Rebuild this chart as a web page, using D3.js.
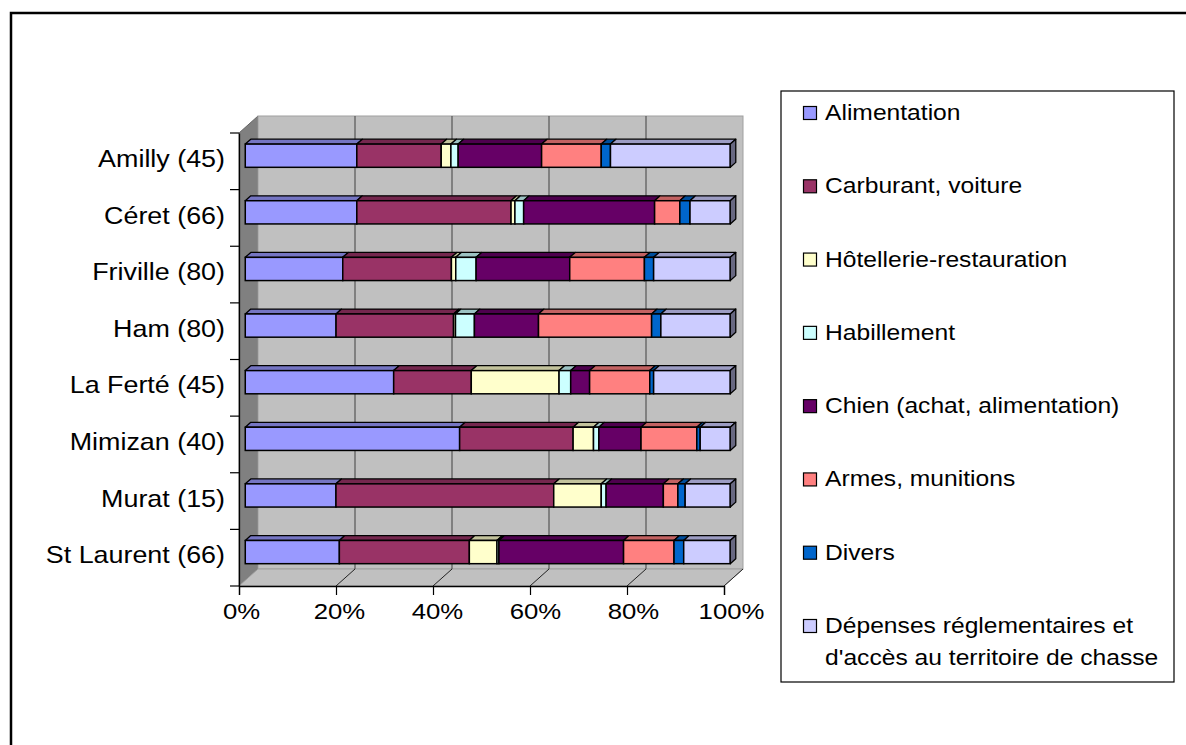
<!doctype html>
<html>
  <head>
    <meta charset="utf-8">
    <script src="https://d3js.org/d3.v7.min.js"></script>
    <style>
      body { margin: 0; background: #fff; }
      text { font-family: "Liberation Sans", Arial, sans-serif; fill: #000; }
    </style>
  </head>
  <body>
    <svg id="chart" width="1186" height="745"></svg>
    <script>
      /* categories (hunting areas) */
      const categories = ["Amilly (45)", "Céret (66)", "Friville (80)", "Ham (80)",
        "La Ferté (45)", "Mimizan (40)", "Murat (15)", "St Laurent (66)"];

      /* series names, legend order */
      const seriesNames = ["Alimentation", "Carburant, voiture", "Hôtellerie-restauration",
        "Habillement", "Chien (achat, alimentation)", "Armes, munitions", "Divers",
        "Dépenses réglementaires et d'accès au territoire de chasse"];

      /* share of spending (%) per category */
      const alimentation = [23.0, 23.0, 20.1, 18.7, 30.6, 44.2, 18.7, 19.4];
      const carburant    = [17.4, 31.8, 22.4, 24.2, 16.0, 23.4, 44.9, 26.8];
      const hotellerie   = [2.0, 0.8, 0.9, 0.4, 18.1, 4.2, 9.8, 5.7];
      const habillement  = [1.5, 1.8, 4.2, 3.9, 2.4, 1.1, 1.0, 0.4];
      const chien        = [17.2, 27.0, 19.3, 13.2, 3.9, 8.7, 11.8, 25.7];
      const armes        = [12.3, 5.2, 15.4, 23.3, 12.4, 11.5, 3.0, 10.4];
      const divers       = [1.9, 2.1, 1.9, 1.9, 0.8, 0.7, 1.5, 2.0];
      const depenses     = [24.7, 8.3, 15.8, 14.3, 15.8, 6.2, 9.3, 9.6];

      const xTicks = [0, 0.2, 0.4, 0.6, 0.8, 1];

      const colors = ["#9999FF", "#993366", "#FFFFCC", "#CCFFFF", "#660066", "#FF8080", "#0066CC", "#CCCCFF"];

      const allSeries = [alimentation, carburant, hotellerie, habillement, chien, armes, divers, depenses];
      const keys = seriesNames.map((d, i) => "s" + i);
      const table = categories.map((c, j) => {
        const row = { cat: c };
        allSeries.forEach((s, i) => row[keys[i]] = s[j]);
        return row;
      });

      const svg = d3.select("#chart");
      const SX = 1.12; // text looks stretched horizontally in the original

      /* outer frame */
      svg.append("rect").attr("x", 11).attr("y", 13).attr("width", 1300).attr("height", 900)
        .attr("fill", "none").attr("stroke", "#000").attr("stroke-width", 2.5);

      /* plot geometry: front plane + depth vector */
      const x = d3.scaleLinear().domain([0, 1]).range([239, 724]);
      const y = d3.scaleBand().domain(categories).range([133, 586]);
      const dx = 19, dy = -17;
      const plotTop = 133, plotBottom = 586;

      const walls = svg.append("g");
      // left wall
      walls.append("path")
        .attr("d", `M${x(0)},${plotTop}L${x(0) + dx},${plotTop + dy}L${x(0) + dx},${plotBottom + dy}L${x(0)},${plotBottom}Z`)
        .attr("fill", "#808080").attr("stroke", "#666").attr("stroke-width", 1);
      // back wall
      walls.append("rect").attr("x", x(0) + dx).attr("y", plotTop + dy)
        .attr("width", x(1) - x(0)).attr("height", plotBottom - plotTop)
        .attr("fill", "#C0C0C0").attr("stroke", "#a0a0a0").attr("stroke-width", 1);
      // floor
      walls.append("path")
        .attr("d", `M${x(0)},${plotBottom}L${x(0) + dx},${plotBottom + dy}L${x(1) + dx},${plotBottom + dy}L${x(1)},${plotBottom}Z`)
        .attr("fill", "#C0C0C0").attr("stroke", "#a0a0a0").attr("stroke-width", 1);

      // gridlines on back wall and floor
      walls.selectAll("line.grid").data(xTicks.slice(1, -1)).enter().append("line")
        .attr("x1", d => x(d) + dx).attr("x2", d => x(d) + dx)
        .attr("y1", plotTop + dy).attr("y2", plotBottom + dy)
        .attr("stroke", "#555").attr("stroke-width", 1.2);
      walls.selectAll("line.fgrid").data(xTicks.slice(1)).enter().append("line")
        .attr("x1", d => x(d)).attr("x2", d => x(d) + dx)
        .attr("y1", plotBottom).attr("y2", plotBottom + dy)
        .attr("stroke", "#222").attr("stroke-width", 1);

      /* bars */
      const stacked = d3.stack().keys(keys).offset(d3.stackOffsetExpand)(table);
      const f0 = 0.33, f1 = 0.62;          // depth placement of bars
      const bh = y.bandwidth() * 0.41;

      const bars = svg.append("g");
      categories.forEach((c, j) => {
        const ox = dx * f0, oy = dy * f0;
        const ddx = dx * (f1 - f0), ddy = dy * (f1 - f0);
        const yc = y(c) + y.bandwidth() / 2 + oy;
        const y0 = yc - bh / 2, y1 = yc + bh / 2;
        stacked.forEach((layer, i) => {
          const a = x(layer[j][0]) + ox, b = x(layer[j][1]) + ox;
          if (b - a <= 0) return;
          const col = d3.color(colors[i]);
          // top face
          bars.append("path")
            .attr("d", `M${a},${y0}L${a + ddx},${y0 + ddy}L${b + ddx},${y0 + ddy}L${b},${y0}Z`)
            .attr("fill", col.darker(0.75)).attr("stroke", "#000").attr("stroke-width", 1.3)
            .attr("stroke-linejoin", "round");
          // front face
          bars.append("rect").attr("x", a).attr("y", y0).attr("width", b - a).attr("height", bh)
            .attr("fill", colors[i]).attr("stroke", "#000").attr("stroke-width", 1.5);
          // right side of the last segment
          if (i === stacked.length - 1) {
            bars.append("path")
              .attr("d", `M${b},${y0}L${b + ddx},${y0 + ddy}L${b + ddx},${y1 + ddy}L${b},${y1}Z`)
              .attr("fill", col.darker(1.9)).attr("stroke", "#000").attr("stroke-width", 1.3)
              .attr("stroke-linejoin", "round");
          }
        });
      });

      /* axes */
      const xAxis = svg.append("g").attr("transform", `translate(0,${plotBottom})`)
        .call(d3.axisBottom(x).tickValues(xTicks).tickFormat(d3.format(".0%")).tickSize(9).tickPadding(8));
      xAxis.select(".domain").attr("stroke", "#000").attr("stroke-width", 1.3);
      xAxis.selectAll(".tick line").attr("stroke", "#000").attr("stroke-width", 1.2);
      xAxis.selectAll(".tick text")
        .attr("font-size", 23).attr("dy", "0.71em")
        .attr("font-family", "Liberation Sans, Arial, sans-serif")
        .attr("transform", d => `translate(${2 + d * 5},0) scale(${SX},1)`);

      const yAxis = svg.append("g").attr("transform", `translate(${x(0)},0)`)
        .call(d3.axisLeft(y).tickSize(0).tickPadding(14));
      yAxis.select(".domain").attr("stroke", "#000").attr("stroke-width", 1.3);
      yAxis.selectAll(".tick text").attr("font-size", 24)
        .attr("font-family", "Liberation Sans, Arial, sans-serif")
        .attr("transform", `translate(0,-2) scale(${SX},1)`)
        .attr("x", -14 / SX);
      // ticks between categories
      const bounds = categories.map(c => y(c)).concat([plotBottom]);
      svg.append("g").selectAll("line").data(bounds).enter().append("line")
        .attr("x1", x(0) - 9).attr("x2", x(0)).attr("y1", d => d).attr("y2", d => d)
        .attr("stroke", "#000").attr("stroke-width", 1.2);

      /* legend */
      const legend = svg.append("g");
      legend.append("rect").attr("x", 781).attr("y", 91).attr("width", 393).attr("height", 591)
        .attr("fill", "#fff").attr("stroke", "#000").attr("stroke-width", 1.2);
      const ly = d3.scalePoint().domain(seriesNames).range([113, 626]);
      seriesNames.forEach((name, i) => {
        const cy = ly(name);
        legend.append("rect").attr("x", 803.5).attr("y", cy - 6.5).attr("width", 13).attr("height", 13)
          .attr("fill", colors[i]).attr("stroke", "#000").attr("stroke-width", 1.2);
        const lines = i === seriesNames.length - 1
          ? ["Dépenses réglementaires et", "d'accès au territoire de chasse"] : [name];
        lines.forEach((ln, k) => {
          legend.append("text")
            .attr("transform", `translate(825,${cy + 7 + k * 32}) scale(${SX},1)`)
            .attr("font-size", 22).text(ln);
        });
      });
    </script>
  </body>
</html>
